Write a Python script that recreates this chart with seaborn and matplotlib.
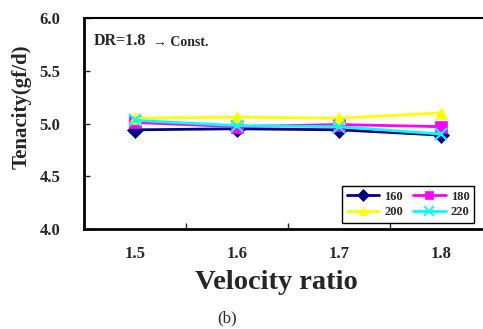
import matplotlib
matplotlib.use("Agg")
import matplotlib.pyplot as plt
import matplotlib.colors as mcolors
import seaborn as sns
import pandas as pd
from matplotlib.ticker import FixedLocator

sns.set_style("white")
plt.rcParams['font.family'] = ['Liberation Serif', 'DejaVu Serif']

velocity = ["1.5", "1.6", "1.7", "1.8"]
t160 = [4.94, 4.95, 4.94, 4.89]
t180 = [5.01, 4.97, 4.99, 4.97]
t200 = [5.05, 5.06, 5.05, 5.10]
t220 = [5.03, 4.98, 4.97, 4.90]
series_names = ["160", "180", "200", "220"]

rows = []
for name, vals in zip(series_names, [t160, t180, t200, t220]):
    for v, t in zip(velocity, vals):
        rows.append({"Velocity ratio": v, "Tenacity": t, "Temp": name})
df = pd.DataFrame(rows)

palette = {"160": "#000080", "180": "#FF00FF", "200": "#FFFF00", "220": "#00FFFF"}
markers = {"160": "D", "180": "s", "200": "^", "220": "X"}

fig = plt.figure(figsize=(4.83, 3.29), dpi=100)
ax = fig.add_axes([84/483, 1-229/329, 408/483, 211/329])

sns.lineplot(data=df, x="Velocity ratio", y="Tenacity", hue="Temp", style="Temp",
             palette=palette, markers=markers, dashes=False, linewidth=2,
             markersize=8, markeredgewidth=0.5, ax=ax, sort=False)

def is_cyan(line):
    try:
        return mcolors.to_hex(line.get_color()) == "#00ffff"
    except Exception:
        return False

for line in ax.get_lines():
    if is_cyan(line):
        line.set_marker("x")
        line.set_markeredgecolor("#00FFFF")
        line.set_markeredgewidth(1.5)
        line.set_markersize(9)
    else:
        line.set_markeredgecolor(line.get_color())

ax.set_xlim(-0.5, 3.5)
ax.set_ylim(4.0, 6.0)
ax.set_yticks([4.0, 4.5, 5.0, 5.5, 6.0])
ax.set_yticklabels(["4.0", "4.5", "5.0", "5.5", "6.0"])
ax.set_xticks([0, 1, 2, 3])
ax.set_xticklabels(velocity)
ax.xaxis.set_minor_locator(FixedLocator([0.5, 1.5, 2.5]))
ax.tick_params(axis='x', which='major', length=0, pad=12, labelsize=12)
ax.tick_params(axis='x', which='minor', direction='in', length=4, width=1, bottom=True)
ax.tick_params(axis='y', which='major', direction='in', length=4, width=1, left=True, pad=17, labelsize=12)
for lab in ax.get_xticklabels() + ax.get_yticklabels():
    lab.set_fontweight('bold')

for s in ['left', 'bottom']:
    ax.spines[s].set_linewidth(2)
    ax.spines[s].set_color('black')
ax.spines['top'].set_linewidth(1.5)
ax.spines['top'].set_color('black')
ax.spines['right'].set_visible(False)

ax.set_ylabel("Tenacity(gf/d)", fontsize=15, fontweight='bold', va='center')
ax.yaxis.set_label_coords(-0.152, 0.578)
ax.set_xlabel("Velocity ratio", fontsize=20.5, fontweight='bold', va='center')
ax.xaxis.set_label_coords(0.471, -0.255)

fig.text(94/483, 1-41/329, "DR=1.8", fontsize=11.5, fontweight='bold', va='center', ha='left')
fig.text(153/483, 1-42/329, "\u2192 Const.", fontsize=10, fontweight='bold', va='center', ha='left')
fig.text(227/483, 1-318/329, "(b)", fontsize=12, va='center', ha='center')

handles, labels = ax.get_legend_handles_labels()
hmap = dict(zip(labels, handles))
for name, h in hmap.items():
    h.set_markersize(6)
    h.set_linewidth(2)
    h.set_markeredgecolor(palette[name])
    if name == "220":
        h.set_marker("x")
        h.set_markeredgewidth(1.3)
        h.set_markersize(7)
order = ["160", "200", "180", "220"]
leg = ax.legend([hmap[n] for n in order], order, ncol=2,
                loc='upper left', bbox_to_anchor=(336/483, 1-215/329, 144/483, 35/329),
                bbox_transform=fig.transFigure, mode='expand',
                frameon=True, fancybox=False, edgecolor='black', framealpha=1,
                prop={'weight': 'bold', 'size': 9}, handlelength=2.6,
                columnspacing=1.5, borderpad=0.35, labelspacing=0.3, handletextpad=0.4)
leg.get_frame().set_linewidth(1)

fig.savefig("out.png", dpi=100, facecolor='white')
